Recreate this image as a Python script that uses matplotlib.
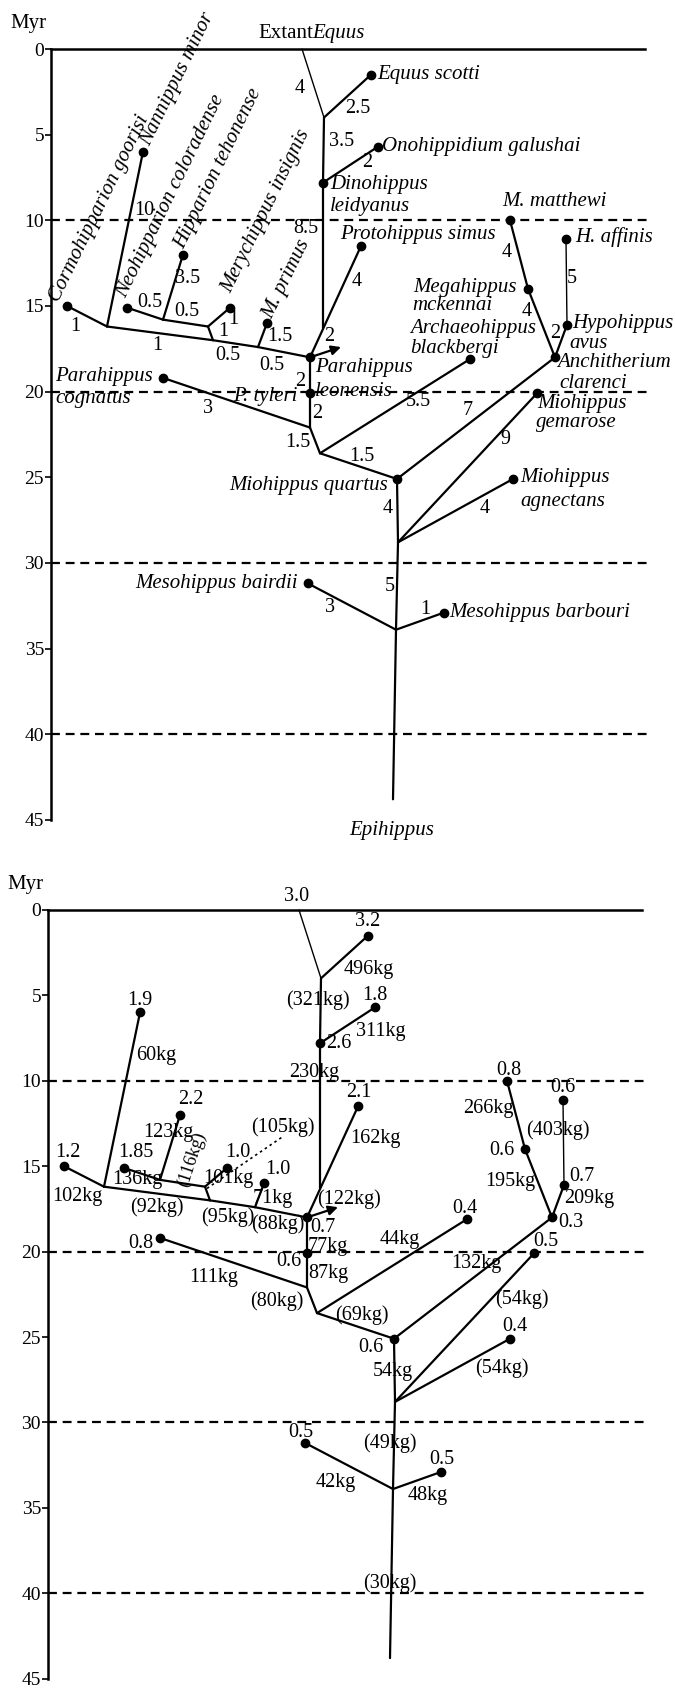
import matplotlib
matplotlib.use('Agg')
import matplotlib.pyplot as plt

plt.rcParams['font.family'] = ['Liberation Serif', 'DejaVu Serif']

# tree nodes: name, horizontal position (px across panel), age (Myr)
node_names = ['equus_top', 'n_equus', 'scotti', 'dino', 'onoh', 'join_proto', 'leon_node', 'proto',
              'n_primus', 'n_mery', 'n_nann', 'cormo', 'primus', 'n_a', 'mery', 'n_hipp', 'neoh', 'hipp',
              'nann', 'leon', 'n_cog', 'cognatus', 'n_b', 'archaeo', 'quartus', 'anchi', 'n_c',
              'gemarose', 'agnect', 'n_d', 'bairdii', 'barbouri', 'root', 'matthewi', 'megah', 'haff', 'hypo']
node_x = [302, 324, 371, 323, 378, 323, 310, 361,
          258, 213, 107, 67, 267, 208, 230, 163, 127, 183,
          143, 310, 310, 163, 320, 470, 397, 555, 398,
          537, 513, 396, 308, 444, 393, 510, 528, 566, 567]
node_age = [0.0, 4.0, 1.5, 7.8, 5.7, 16.3, 18.0, 11.5,
            17.4, 17.0, 16.2, 15.0, 16.0, 16.2, 15.1, 15.8, 15.1, 12.0,
            6.0, 20.1, 22.1, 19.2, 23.6, 18.1, 25.1, 18.0, 28.8,
            20.1, 25.1, 33.9, 31.2, 32.9, 43.8, 10.0, 14.0, 11.1, 16.1]

edges = [('equus_top', 'n_equus'), ('n_equus', 'scotti'), ('n_equus', 'dino'), ('dino', 'onoh'),
         ('dino', 'join_proto'), ('leon_node', 'proto'), ('leon_node', 'n_primus'), ('n_primus', 'n_mery'),
         ('n_mery', 'n_nann'), ('n_nann', 'cormo'), ('n_primus', 'primus'), ('n_mery', 'n_a'),
         ('n_a', 'mery'), ('n_a', 'n_hipp'), ('n_hipp', 'neoh'), ('n_hipp', 'hipp'), ('n_nann', 'nann'),
         ('leon_node', 'leon'), ('leon', 'n_cog'), ('n_cog', 'cognatus'), ('n_cog', 'n_b'),
         ('n_b', 'archaeo'), ('n_b', 'quartus'), ('quartus', 'anchi'), ('quartus', 'n_c'),
         ('n_c', 'gemarose'), ('n_c', 'agnect'), ('n_c', 'n_d'), ('n_d', 'bairdii'), ('n_d', 'barbouri'),
         ('n_d', 'root'), ('matthewi', 'megah'), ('megah', 'anchi'), ('haff', 'hypo'), ('hypo', 'anchi')]
thin_edges = [('equus_top', 'n_equus'), ('haff', 'hypo')]

dot_nodes = ['scotti', 'dino', 'onoh', 'leon_node', 'proto', 'cormo', 'primus', 'mery', 'neoh', 'hipp',
             'nann', 'leon', 'cognatus', 'archaeo', 'quartus', 'anchi', 'gemarose', 'agnect', 'bairdii',
             'barbouri', 'matthewi', 'megah', 'haff', 'hypo']

# species names (top panel): text, x, age, horizontal alignment
species = [('Equus scotti', 377, 1.5, 'left'), ('Onohippidium galushai', 382, 5.7, 'left'),
           ('Dinohippus', 330, 7.9, 'left'), ('leidyanus', 330, 9.2, 'left'),
           ('M. matthewi', 502, 8.9, 'left'), ('Protohippus simus', 340, 10.8, 'left'),
           ('H. affinis', 575, 11.0, 'left'), ('Megahippus', 413, 13.9, 'left'),
           ('mckennai', 412, 15.0, 'left'), ('Archaeohippus', 410, 16.3, 'left'),
           ('blackbergi', 410, 17.5, 'left'), ('Hypohippus', 572, 16.0, 'left'),
           ('avus', 569, 17.2, 'left'), ('Anchitherium', 557, 18.3, 'left'),
           ('clarenci', 559, 19.5, 'left'), ('Parahippus', 315, 18.6, 'left'),
           ('leonensis', 315, 20.0, 'left'), ('Parahippus', 55, 19.1, 'left'),
           ('cognatus', 55, 20.4, 'left'), ('P. tyleri', 233, 20.3, 'left'),
           ('Miohippus', 537, 20.7, 'left'), ('gemarose', 536, 21.8, 'left'),
           ('Miohippus', 520, 25.0, 'left'), ('agnectans', 520, 26.4, 'left'),
           ('Miohippus quartus', 388, 25.5, 'right'), ('Mesohippus bairdii', 298, 31.2, 'right'),
           ('Mesohippus barbouri', 449, 32.9, 'left'), ('Epihippus', 392, 45.6, 'center')]
slanted = [('Cormohipparion goorisi', 59, 14.8), ('Nannippus minor', 150, 5.7),
           ('Neohipparion coloradense', 126, 14.6), ('Hipparion tehonense', 184, 11.7),
           ('Merychippus insignis', 231, 14.3), ('M. primus', 272, 15.8)]

# branch lengths (top panel)
top_numbers = [('4', 300, 2.3), ('2.5', 358, 3.5), ('3.5', 342, 5.4), ('2', 367, 6.6), ('8.5', 306, 10.5),
               ('4', 357, 13.6), ('10', 144, 9.4), ('3.5', 188, 13.4), ('0.5', 150, 14.8),
               ('0.5', 187, 15.3), ('1', 233, 15.8), ('1', 223, 16.5), ('1.5', 280, 16.8), ('1', 75, 16.2),
               ('1', 157, 17.3), ('0.5', 228, 17.9), ('0.5', 272, 18.5), ('2', 329, 16.8), ('2', 300, 19.4),
               ('2', 317, 21.3), ('3', 208, 21.0), ('1.5', 298, 23.0), ('5.5', 418, 20.6), ('7', 468, 21.1),
               ('1.5', 362, 23.8), ('9', 505, 22.8), ('4', 388, 26.8), ('4', 485, 26.8), ('5', 390, 31.4),
               ('3', 330, 32.6), ('1', 425, 32.7), ('4', 507, 11.9), ('4', 527, 15.3), ('5', 572, 13.4),
               ('2', 555, 16.6)]

# body size values (bottom panel)
bottom_numbers = [('3.0', 300, -0.8), ('3.2', 371, 0.7), ('496kg', 372, 3.5), ('(321kg)', 321, 5.3),
                  ('1.8', 378, 5.0), ('1.9', 143, 5.3), ('311kg', 384, 7.1), ('2.6', 342, 7.8),
                  ('60kg', 159, 8.5), ('230kg', 317, 9.5), ('0.8', 512, 9.4), ('0.6', 566, 10.4),
                  ('2.1', 362, 10.7), ('2.2', 194, 11.1), ('266kg', 491, 11.6), ('(403kg)', 561, 12.9),
                  ('(105kg)', 286, 12.7), ('123kg', 171, 13.0), ('162kg', 378, 13.4), ('0.6', 505, 14.1),
                  ('1.2', 71, 14.2), ('1.85', 139, 14.2), ('1.0', 241, 14.2), ('1.0', 281, 15.2),
                  ('0.7', 585, 15.6), ('136kg', 140, 15.8), ('101kg', 231, 15.7), ('195kg', 513, 15.9),
                  ('102kg', 80, 16.8), ('71kg', 276, 16.9), ('209kg', 592, 16.9), ('(122kg)', 352, 16.9),
                  ('(92kg)', 160, 17.4), ('0.4', 468, 17.5), ('(95kg)', 231, 18.0), ('0.3', 574, 18.3),
                  ('(88kg)', 281, 18.4), ('0.7', 326, 18.6), ('44kg', 403, 19.3), ('0.5', 549, 19.4),
                  ('0.8', 144, 19.5), ('77kg', 331, 19.7), ('0.6', 292, 20.6), ('132kg', 479, 20.7),
                  ('87kg', 331, 21.3), ('111kg', 217, 21.5), ('(54kg)', 525, 22.8), ('(80kg)', 280, 22.9),
                  ('(69kg)', 365, 23.7), ('0.4', 518, 24.4), ('0.6', 374, 25.6), ('(54kg)', 505, 26.8),
                  ('54kg', 396, 27.0), ('0.5', 304, 30.6), ('(49kg)', 393, 31.2), ('0.5', 445, 32.2),
                  ('42kg', 339, 33.5), ('48kg', 431, 34.3), ('(30kg)', 393, 39.4)]

pos = {n: (x, a) for n, x, a in zip(node_names, node_x, node_age)}

W, H = 675, 1693
fig = plt.figure(figsize=(W / 100, H / 100), dpi=100)


def make_axes(left_px, top_px, px_per_myr):
    h = 45 * px_per_myr
    ax = fig.add_axes([left_px / W, 1 - (top_px + h) / H, (645 - 51) / W, h / H])
    ax.set_xlim(51, 645)
    ax.set_ylim(45, 0)
    for s in ['right', 'bottom']:
        ax.spines[s].set_visible(False)
    ax.spines['left'].set_linewidth(1.8)
    ax.spines['top'].set_linewidth(1.8)
    ax.set_xticks([])
    ax.set_yticks(range(0, 50, 5))
    ax.tick_params(axis='y', direction='out', length=4, width=1.2, labelsize=14, pad=1)
    ax.patch.set_alpha(0)
    for yy in [10, 20, 30, 40]:
        ax.plot([51, 652], [yy, yy], color='k', lw=1.6, ls=(0, (4, 2.6)), clip_on=False)
    ax.text(10, -1.5, 'Myr', fontsize=15, ha='left', va='center')
    return ax


def draw_tree(ax):
    for a, b in edges:
        lw = 1.0 if (a, b) in thin_edges else 1.6
        ax.plot([pos[a][0], pos[b][0]], [pos[a][1], pos[b][1]], color='k', lw=lw,
                solid_capstyle='round', clip_on=False)
    ax.plot([pos[n][0] for n in dot_nodes], [pos[n][1] for n in dot_nodes], 'o', color='k',
            ms=6, zorder=3, clip_on=False)
    x0, y0 = pos['leon_node']
    ax.annotate('', xy=(341, 17.4), xytext=(x0, y0),
                arrowprops=dict(arrowstyle='-|>', color='k', lw=1.6, mutation_scale=14,
                                shrinkA=0, shrinkB=0))


# top panel: phylogeny with branch lengths
ax1 = make_axes(51, 49, 17.13)
draw_tree(ax1)
ax1.text(258, -0.9, 'Extant', fontsize=15, ha='left', va='center')
ax1.text(312, -0.9, 'Equus', fontsize=15, style='italic', ha='left', va='center')
for t, x, a, ha in species:
    ax1.text(x, a, t, fontsize=15, style='italic', ha=ha, va='center')
for t, x, a in slanted:
    ax1.text(x, a, t, fontsize=15, style='italic', rotation=64, rotation_mode='anchor',
             ha='left', va='baseline')
for t, x, a in top_numbers:
    ax1.text(x, a, t, fontsize=14.5, ha='center', va='center')

# bottom panel: body size
ax2 = make_axes(48, 910, 17.08)
draw_tree(ax2)
xa, ya = pos['n_a']
ax2.plot([xa + 2, 285], [ya + 0.1, 13.3], color='k', lw=1.2, ls=(0, (1.5, 2)))
for t, x, a in bottom_numbers:
    ax2.text(x, a, t, fontsize=14.5, ha='center', va='center')
ax2.text(195, 14.6, '(116kg)', fontsize=13, rotation=72, ha='center', va='center')

fig.savefig('out.png', dpi=100)
